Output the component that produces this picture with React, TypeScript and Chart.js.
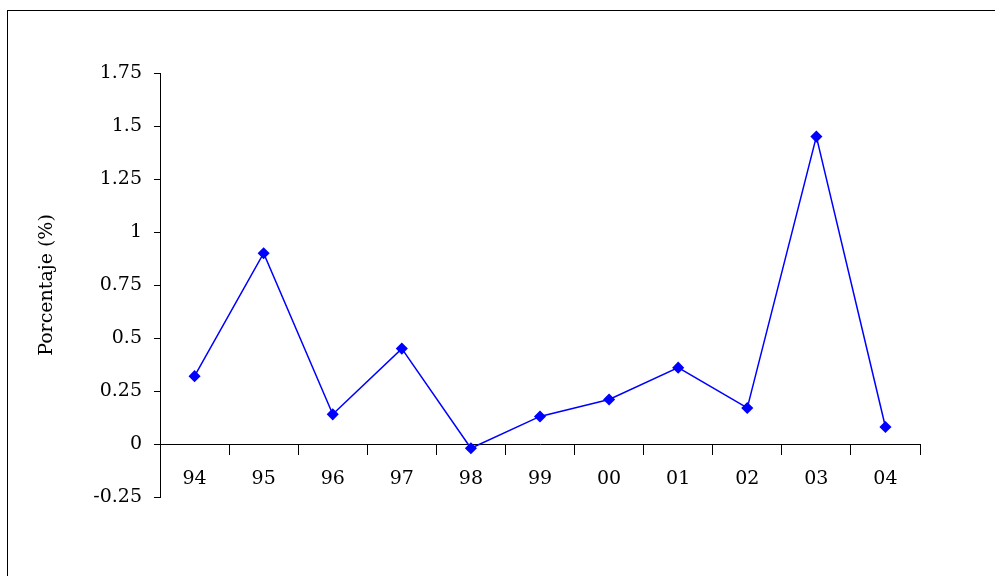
import React, { useEffect, useRef } from "react";
import { Chart, registerables } from "chart.js";
Chart.register(...registerables);

const categories = ["94", "95", "96", "97", "98", "99", "00", "01", "02", "03", "04"];
const values = [0.32, 0.9, 0.14, 0.45, -0.02, 0.13, 0.21, 0.36, 0.17, 1.45, 0.08];
const yTicks = [-0.25, 0, 0.25, 0.5, 0.75, 1, 1.25, 1.5, 1.75];

export default function App() {
  const ref = useRef<HTMLCanvasElement>(null);
  useEffect(() => {
    const font = { family: "DejaVu Serif", size: 19 };
    const chart = new Chart(ref.current!, {
      type: "line",
      data: {
        labels: categories,
        datasets: [{
          data: values,
          borderColor: "#0000ff",
          backgroundColor: "#0000ff",
          borderWidth: 1.5,
          pointStyle: "rectRot",
          pointRadius: 5,
          pointHoverRadius: 5,
          tension: 0,
        }],
      },
      options: {
        animation: false,
        responsive: false,
        layout: { padding: { left: 36, top: 73, right: 75, bottom: 79 } },
        plugins: { legend: { display: false }, tooltip: { enabled: false } },
        scales: {
          x: {
            position: { y: 0 } as any,
            offset: true,
            grid: { offset: true, drawOnChartArea: false, tickLength: 10, color: "#000" },
            border: { color: "#000", width: 1 },
            ticks: { color: "#000", font, padding: 14 },
          },
          y: {
            min: -0.25,
            max: 1.75,
            afterFit: (s: any) => { s.width = 124; },
            afterBuildTicks: (s: any) => { s.ticks = yTicks.map((v) => ({ value: v })); },
            grid: { drawOnChartArea: false, tickLength: 6, color: "#000" },
            border: { color: "#000", width: 1 },
            ticks: { color: "#000", font, padding: 12, callback: (v: any) => String(v) },
            title: { display: true, text: "Porcentaje (%)", color: "#000", font, padding: 0 },
          },
        },
      },
    });
    return () => chart.destroy();
  }, []);
  return (
    <div style={{ position: "absolute", left: 0, top: 0, width: 995, height: 576, overflow: "hidden", background: "#fff" }}>
      <div style={{ position: "absolute", left: 7, top: 10, width: 1000, height: 600, border: "1px solid #000" }} />
      <canvas ref={ref} width={995} height={576} style={{ position: "absolute", left: 0, top: 0 }} />
    </div>
  );
}
